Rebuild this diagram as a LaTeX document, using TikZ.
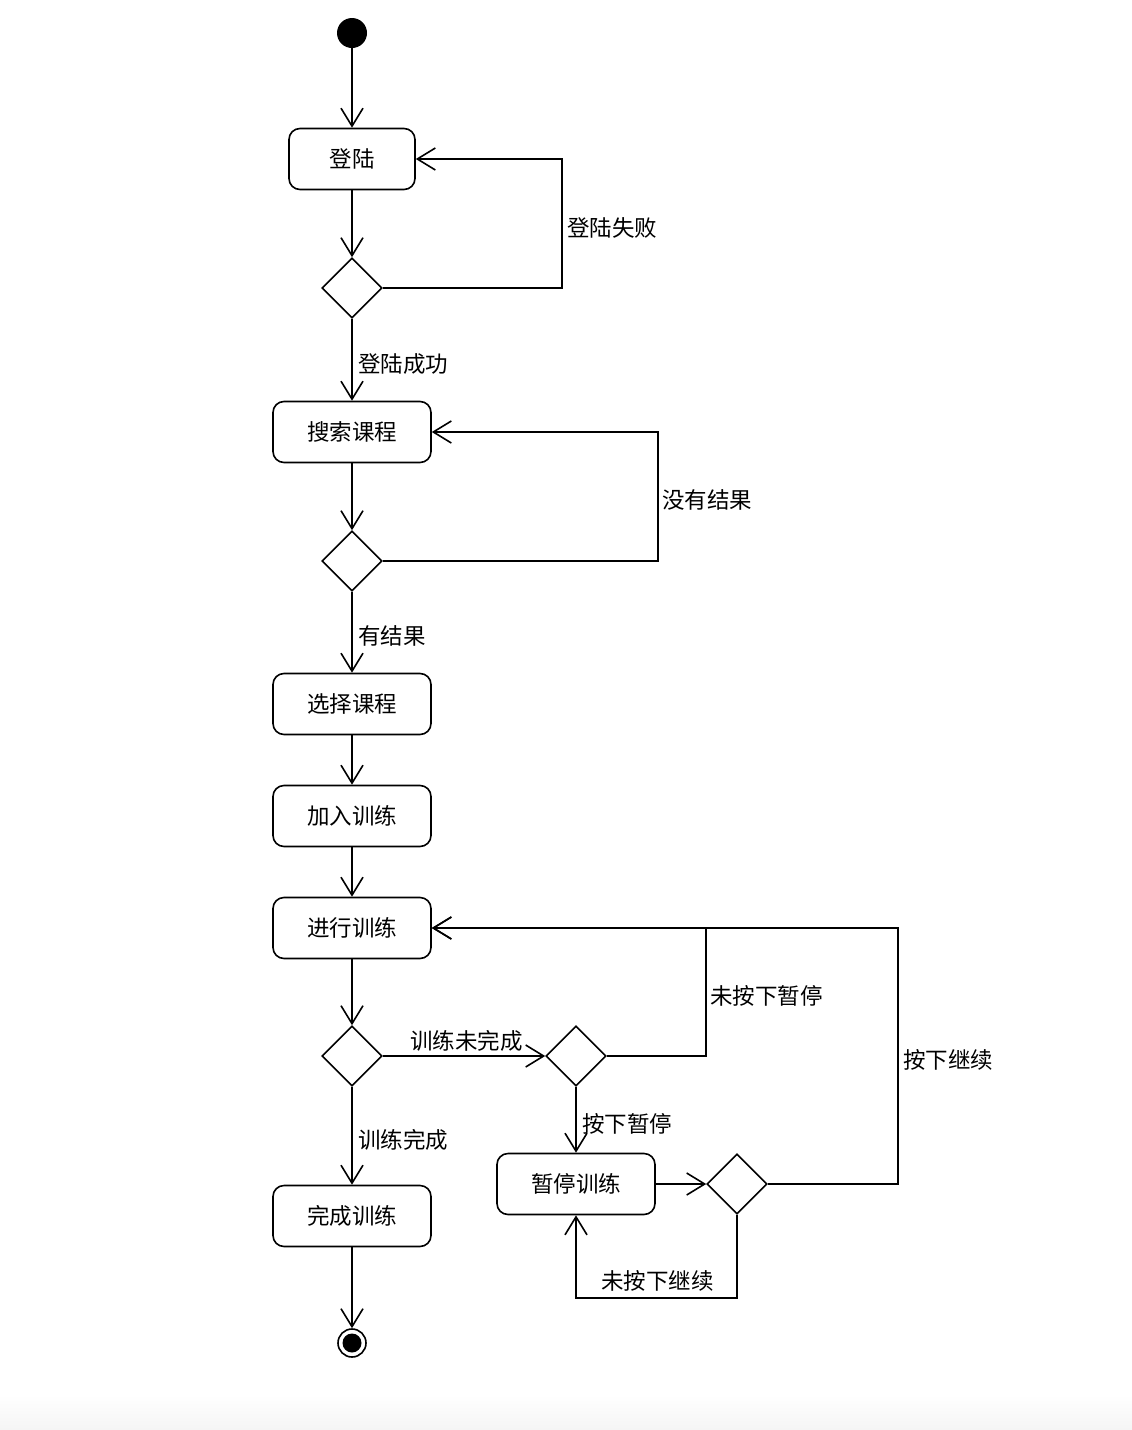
\documentclass[tikz,border=0pt]{standalone}
\usepackage{fontspec}
\setmainfont{Noto Sans CJK SC}
\usetikzlibrary{shapes.geometric,arrows.meta}
\begin{document}
\begin{tikzpicture}[x=1pt,y=-1pt,
  every node/.style={font=\fontsize{22.5}{26}\selectfont},
  act/.style={draw,line width=1.6pt,rounded corners=11pt,minimum height=61pt,inner sep=0pt},
  dec/.style={draw,line width=1.6pt,diamond,minimum width=60pt,minimum height=60pt,inner sep=0pt},
  lbl/.style={anchor=west,inner sep=0pt},
  arr/.style={line width=1.6pt,-{Straight Barb[length=18pt,width=22pt,line width=1.6pt]}},
  ln/.style={line width=1.6pt}]
\useasboundingbox (0,0) rectangle (1132,1430);
\shade[top color=white,bottom color=black!4] (0,1395) rectangle (1132,1430);
\node[circle,fill=black,minimum size=30pt,inner sep=0pt] (start) at (352,33) {};
\node[act,minimum width=126pt] (login) at (352,159) {登陆};
\node[dec] (d1) at (352,288) {};
\node[act,minimum width=158pt] (search) at (352,432) {搜索课程};
\node[dec] (d2) at (352,561) {};
\node[act,minimum width=158pt] (select) at (352,704) {选择课程};
\node[act,minimum width=158pt] (join) at (352,816) {加入训练};
\node[act,minimum width=158pt] (train) at (352,928) {进行训练};
\node[dec] (d3) at (352,1056) {};
\node[dec] (d4) at (576,1056) {};
\node[act,minimum width=158pt] (pause) at (576,1184) {暂停训练};
\node[dec] (d5) at (737,1184) {};
\node[act,minimum width=158pt] (done) at (352,1216) {完成训练};
\node[circle,draw,line width=1.6pt,minimum size=28pt,inner sep=0pt] (end) at (352,1343) {};
\fill (end.center) circle (9.5);

\draw[arr] (start) -- (login);
\draw[arr] (login) -- (d1);
\draw[arr] (d1.east) -- ++(179,0) |- (login.east);
\draw[arr] (d1) -- (search);
\draw[arr] (search) -- (d2);
\draw[arr] (d2.east) -- ++(275,0) |- (search.east);
\draw[arr] (d2) -- (select);
\draw[arr] (select) -- (join);
\draw[arr] (join) -- (train);
\draw[arr] (train) -- (d3);
\draw[arr] (d3) -- (d4);
\draw[arr] (d4.east) -- ++(99,0) |- (train.east);
\draw[arr] (d4) -- (pause);
\draw[arr] (pause) -- (d5);
\draw[arr] (d5.east) -- ++(130,0) |- (train.east);
\draw[arr] (d5.south) -- ++(0,83) -| (pause.south);
\draw[arr] (d3) -- (done);
\draw[arr] (done) -- (end);

\node[lbl] (l1) at (567,228) {登陆失败};
\node[lbl] (l2) at (358,364) {登陆成功};
\node[lbl] (l3) at (662,500) {没有结果};
\node[lbl] (l4) at (358,636) {有结果};
\node[lbl] (l5) at (410,1041) {训练未完成};
\node[lbl] (l6) at (710,996) {未按下暂停};
\node[lbl] (l7) at (582,1124) {按下暂停};
\node[lbl] (l8) at (903,1060) {按下继续};
\node[lbl] (l9) at (358,1140) {训练完成};
\node[lbl] (l10) at (601,1281) {未按下继续};
\end{tikzpicture}
\end{document}
